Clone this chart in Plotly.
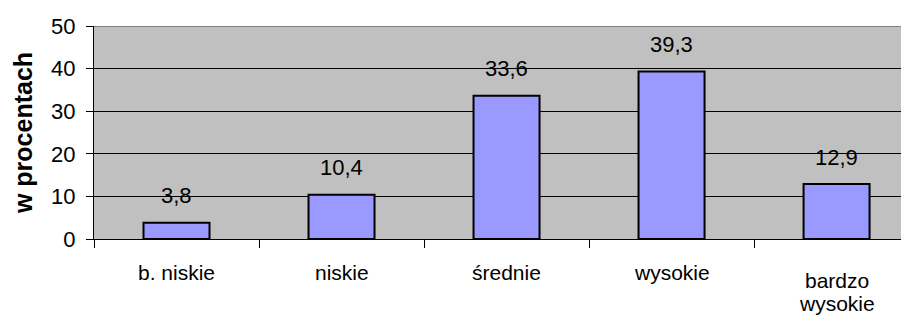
import plotly.graph_objects as go

categories = ["b. niskie", "niskie", "średnie", "wysokie", "bardzo<br>wysokie"]
values = [3.8, 10.4, 33.6, 39.3, 12.9]
value_labels = ["3,8", "10,4", "33,6", "39,3", "12,9"]
y_ticks = [0, 10, 20, 30, 40, 50]
y_title = "w procentach"

FONT = "Liberation Sans, Arial, sans-serif"
FS = 22
FS_X = 21

fig = go.Figure()
fig.add_trace(go.Bar(
    x=categories, y=values, width=0.4,
    marker=dict(color="#9999FF", line=dict(color="#000000", width=2)),
    hoverinfo="skip",
))

for c, v, t in zip(categories, values, value_labels):
    fig.add_annotation(x=c, y=v, text=t, showarrow=False, yanchor="middle",
                       yshift=27, font=dict(family=FONT, size=FS, color="#000000"))

# category labels below the axis (multi-line label sits lower, like the original)
for c in categories:
    lines = c.split("<br>")
    n = len(lines)
    for i, line in enumerate(lines):
        fig.add_annotation(x=c, xref="x", y=0, yref="paper", text=line, showarrow=False,
                           yanchor="middle", yshift=-(33 + (n - 1) * 8 + i * 23),
                           font=dict(family=FONT, size=FS_X, color="#000000"))

fig.update_layout(
    width=901, height=307,
    margin=dict(l=86, r=0, t=18, b=76),
    paper_bgcolor="#FFFFFF", plot_bgcolor="#C0C0C0",
    showlegend=False,
    font=dict(family=FONT, size=FS, color="#000000"),
)
fig.update_xaxes(
    type="category", range=[-0.5, 4.439], automargin=False,
    showline=True, linecolor="#000000", linewidth=1,
    ticks="outside", tickson="boundaries", ticklen=8, tickcolor="#000000",
    showgrid=False, showticklabels=False,
)
fig.update_yaxes(
    range=[0, 50], tickvals=y_ticks, automargin=False,
    showline=True, linecolor="#000000", linewidth=1,
    ticks="outside", ticklen=7, tickcolor="#000000",
    showgrid=True, gridcolor="#000000", gridwidth=1,
    zeroline=False, ticklabelstandoff=6,
    tickfont=dict(family=FONT, size=FS),
    title=dict(text="<b>" + y_title + "</b>", font=dict(family=FONT, size=25), standoff=11),
)
# grey top border of plot area
fig.add_shape(type="line", xref="paper", yref="y", x0=0, x1=1, y0=50, y1=50,
              line=dict(color="#808080", width=2))

fig.write_html("out.html")
